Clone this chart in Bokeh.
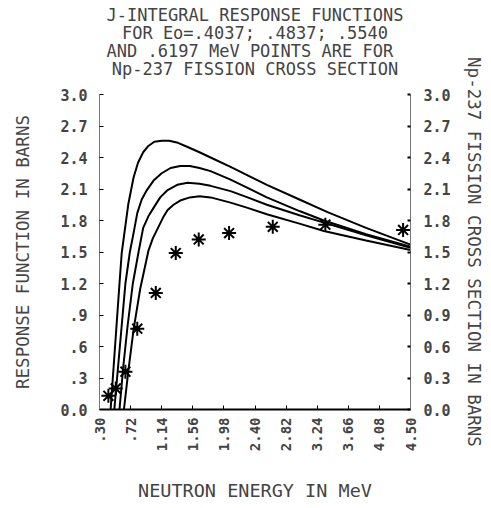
import math
from bokeh.plotting import figure
from bokeh.models import Range1d, LinearAxis, FixedTicker, Title
from bokeh.embed import file_html
from bokeh.resources import INLINE

# ---- data ----
x_ticks = [0.30, 0.72, 1.14, 1.56, 1.98, 2.40, 2.82, 3.24, 3.66, 4.08, 4.50]
x_tick_labels = [".30", ".72", "1.14", "1.56", "1.98", "2.40", "2.82", "3.24", "3.66", "4.08", "4.50"]
y_ticks = [0.0, 0.3, 0.6, 0.9, 1.2, 1.5, 1.8, 2.1, 2.4, 2.7, 3.0]
y_left_labels = ["0.0", ".3", ".6", ".9", "1.2", "1.5", "1.8", "2.1", "2.4", "2.7", "3.0"]
y_right_labels = ["0.0", "0.3", "0.6", "0.9", "1.2", "1.5", "1.8", "2.1", "2.4", "2.7", "3.0"]

title_lines = [
    "J-INTEGRAL RESPONSE FUNCTIONS",
    "FOR Eo=.4037; .4837; .5540",
    "AND .6197 MeV  POINTS ARE FOR",
    "Np-237 FISSION CROSS SECTION",
]

# response functions (barns) vs neutron energy (MeV)
curve1_x = [0.45, 0.49, 0.53, 0.57, 0.60, 0.64, 0.69, 0.76, 0.82, 0.89, 0.96, 1.04, 1.14, 1.24, 1.36, 1.49, 1.65, 1.80, 2.07, 2.30, 2.56, 3.00, 3.38, 3.90, 4.50]
curve1_y = [0.00, 0.40, 0.80, 1.20, 1.49, 1.70, 1.96, 2.21, 2.35, 2.45, 2.51, 2.55, 2.56, 2.56, 2.54, 2.50, 2.45, 2.40, 2.31, 2.23, 2.14, 2.00, 1.88, 1.73, 1.57]

curve2_x = [0.50, 0.55, 0.60, 0.65, 0.71, 0.76, 0.81, 0.87, 0.94, 1.03, 1.14, 1.26, 1.39, 1.52, 1.65, 1.80, 2.07, 2.30, 2.56, 3.00, 3.33, 3.90, 4.50]
curve2_y = [0.00, 0.40, 0.80, 1.20, 1.50, 1.68, 1.87, 2.00, 2.09, 2.18, 2.25, 2.30, 2.32, 2.32, 2.30, 2.27, 2.19, 2.11, 2.02, 1.89, 1.80, 1.67, 1.55]

curve3_x = [0.57, 0.62, 0.68, 0.75, 0.83, 0.89, 0.96, 1.03, 1.12, 1.22, 1.35, 1.49, 1.65, 1.80, 2.07, 2.30, 2.56, 3.00, 3.33, 3.90, 4.50]
curve3_y = [0.00, 0.40, 0.80, 1.20, 1.51, 1.73, 1.84, 1.92, 2.02, 2.09, 2.14, 2.16, 2.15, 2.13, 2.08, 2.02, 1.95, 1.85, 1.78, 1.66, 1.54]

curve4_x = [0.63, 0.69, 0.76, 0.85, 0.96, 1.02, 1.09, 1.16, 1.22, 1.30, 1.39, 1.52, 1.65, 1.80, 2.07, 2.30, 2.56, 3.00, 3.33, 3.90, 4.50]
curve4_y = [0.00, 0.37, 0.76, 1.15, 1.51, 1.63, 1.73, 1.83, 1.90, 1.95, 1.99, 2.02, 2.03, 2.02, 1.97, 1.92, 1.86, 1.77, 1.70, 1.61, 1.52]

# Np-237 fission cross section points
xs_x = [0.42, 0.52, 0.65, 0.81, 1.06, 1.33, 1.64, 2.05, 2.64, 3.35, 4.40]
xs_y = [0.13, 0.20, 0.36, 0.77, 1.11, 1.49, 1.62, 1.68, 1.74, 1.76, 1.71]

MONO = "DejaVu Sans Mono"

p = figure(width=491, height=508,
           x_range=Range1d(0.30, 4.50), y_range=Range1d(0.0, 3.0),
           output_backend="svg", toolbar_location=None,
           min_border_left=99, min_border_right=81,
           min_border_top=94, min_border_bottom=99)
p.outline_line_color = None
p.xgrid.visible = False
p.ygrid.visible = False
p.background_fill_color = "white"
p.border_fill_color = "white"

# blank spacer line between the title block and the frame
p.add_layout(Title(text=" ", align="center", text_font=MONO, text_font_size="17px",
                   standoff=-4), "above")
# title: one Title per line, added nearest-to-frame first
for line in reversed(title_lines):
    p.add_layout(Title(text=line, align="center",
                       text_font=MONO, text_font_size="17px", text_font_style="normal",
                       standoff=-4), "above")

# bottom axis
xa = p.xaxis[0]
xa.ticker = FixedTicker(ticks=x_ticks)
xa.major_label_overrides = dict(zip(x_ticks, x_tick_labels))
xa.major_label_orientation = math.pi / 2
xa.major_label_text_font = MONO
xa.major_label_text_font_style = "bold"
xa.major_label_text_font_size = "14px"
xa.major_label_standoff = 8
xa.major_tick_in = 4
xa.major_tick_out = 0
xa.minor_tick_line_color = None
xa.axis_line_width = 2
xa.axis_line_color = "black"
xa.axis_label = "NEUTRON ENERGY IN MeV"
xa.axis_label_text_font = MONO
xa.axis_label_text_font_style = "normal"
xa.axis_label_text_font_size = "18.5px"
xa.axis_label_standoff = 26

# left axis
ya = p.yaxis[0]
ya.ticker = FixedTicker(ticks=y_ticks)
ya.major_label_overrides = dict(zip(y_ticks, y_left_labels))
ya.major_label_text_font = MONO
ya.major_label_text_font_style = "bold"
ya.major_label_text_font_size = "15px"
ya.major_label_standoff = 12
ya.major_tick_in = 4
ya.major_tick_out = 0
ya.minor_tick_line_color = None
ya.axis_line_color = "#777777"
ya.axis_line_width = 1
ya.axis_label = "RESPONSE FUNCTION IN BARNS"
ya.axis_label_text_font = MONO
ya.axis_label_text_font_style = "normal"
ya.axis_label_text_font_size = "17.5px"
ya.axis_label_standoff = 24

# right axis
p.extra_y_ranges = {"xs": Range1d(0.0, 3.0)}
ra = LinearAxis(y_range_name="xs")
ra.ticker = FixedTicker(ticks=y_ticks)
ra.major_label_overrides = dict(zip(y_ticks, y_right_labels))
ra.major_label_text_font = MONO
ra.major_label_text_font_style = "bold"
ra.major_label_text_font_size = "15px"
ra.major_label_standoff = 13
ra.major_tick_in = 3
ra.major_tick_out = 0
ra.major_tick_line_width = 2
ra.minor_tick_line_color = None
ra.axis_line_color = "#777777"
ra.axis_line_width = 1
ra.axis_label = "Np-237 FISSION CROSS SECTION IN BARNS"
ra.axis_label_text_font = MONO
ra.axis_label_text_font_style = "normal"
ra.axis_label_text_font_size = "17.5px"
ra.axis_label_standoff = 10
p.add_layout(ra, "right")

# curves
for cx, cy in [(curve1_x, curve1_y), (curve2_x, curve2_y), (curve3_x, curve3_y), (curve4_x, curve4_y)]:
    p.line(cx, cy, line_color="black", line_width=2)

# cross section points
p.scatter(xs_x, xs_y, marker="asterisk", size=14, line_color="black", line_width=2, y_range_name="xs")

open("out.html", "w").write(file_html(p, INLINE))
